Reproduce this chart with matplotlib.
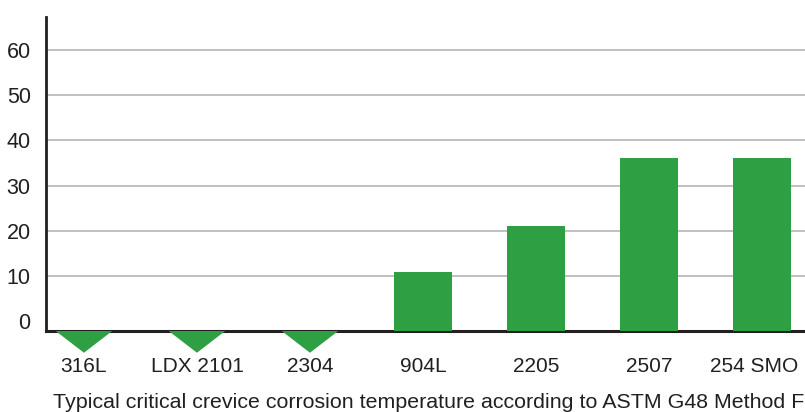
import numpy as np
import matplotlib.pyplot as plt
import matplotlib.transforms as mtransforms

plt.rcParams['font.family'] = ['Liberation Sans', 'DejaVu Sans']

# Data
grades = ["316L", "LDX 2101", "2304", "904L", "2205", "2507", "254 SMO"]
cct = [None, None, None, 11, 21, 36, 36]   # None = below the range (shown as a triangle)
yticks = [0, 10, 20, 30, 40, 50, 60]
caption = "Typical critical crevice corrosion temperature according to ASTM G48 Method F"

green = "#2ea043"
base = -2.1

fig = plt.figure(figsize=(8.05, 4.12), dpi=100)
ax = fig.add_axes([0.0571, 0.1966, 0.9429, 0.7621])

x = np.arange(len(grades))
for i, v in enumerate(cct):
    if v is None:
        # downward triangle under the baseline
        ax.fill([i - 0.25, i + 0.25, i], [base, base, base - 4.8],
                color=green, lw=0, clip_on=False, zorder=3)
    else:
        ax.bar(i, v - base, bottom=base, width=0.513, color=green, zorder=3)

ax.set_xlim(-0.336, 6.38)
ax.set_ylim(base, 67.2)
ax.set_yticks(yticks)
ax.set_xticks(x)
ax.set_xticklabels(grades)
ax.yaxis.grid(True, color="#b5b5b5", lw=1.2)
ax.set_axisbelow(True)
# no gridline at zero
ax.get_ygridlines()[0].set_visible(False)

ax.tick_params(axis='y', length=0, pad=11, labelsize=15.5, labelcolor="#231f20")
ax.tick_params(axis='x', length=0, pad=19, labelsize=15, labelcolor="#231f20")

# last label sits a bit to the left so it stays inside the figure
last = ax.get_xticklabels()[-1]
last.set_transform(last.get_transform() + mtransforms.ScaledTranslation(-6 / 72, 0, fig.dpi_scale_trans))

for s in ["top", "right"]:
    ax.spines[s].set_visible(False)
ax.spines["left"].set_linewidth(2)
ax.spines["left"].set_color("#231f20")
ax.spines["bottom"].set_linewidth(2.2)
ax.spines["bottom"].set_color("#231f20")

fig.text(0.999, 0.0, caption, ha="right", va="bottom", fontsize=15.4, color="#231f20")

fig.savefig("out.png", dpi=100)
